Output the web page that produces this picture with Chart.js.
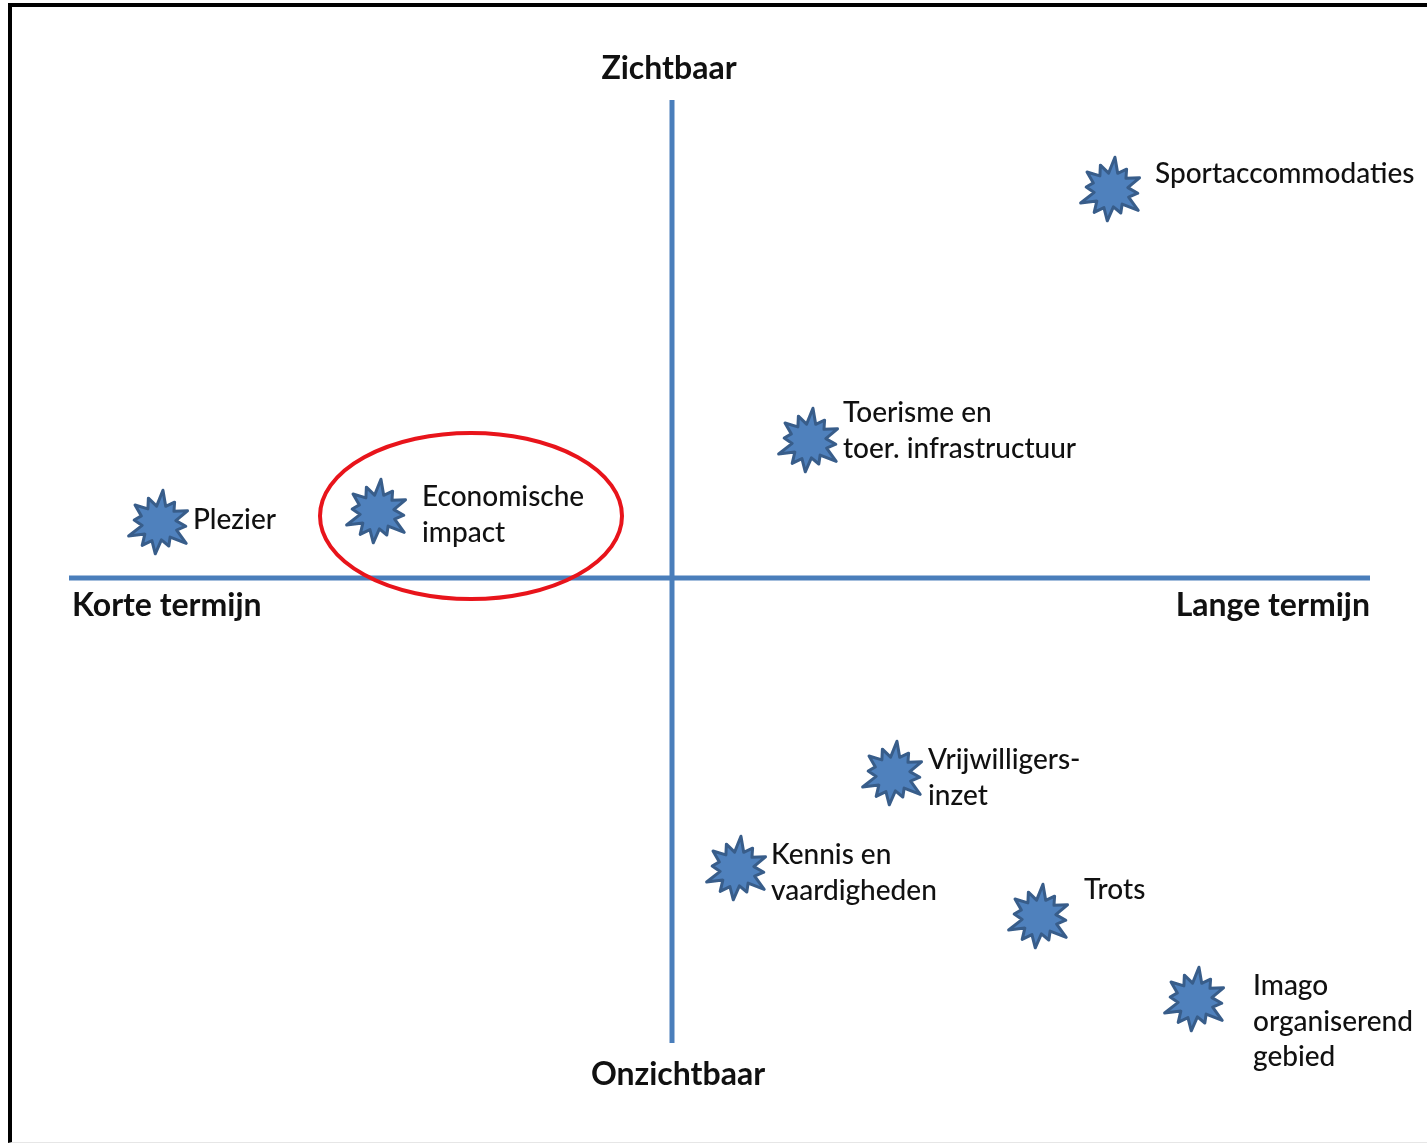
<!DOCTYPE html>
<html>
<head>
<meta charset="utf-8">
<script src="https://cdn.jsdelivr.net/npm/chart.js@4"></script>
<style>
  html, body { margin: 0; padding: 0; background: #fff; }
  #wrap { position: relative; width: 1427px; height: 1146px; }
  #frame { position: absolute; left: 8px; top: 3px; right: 0; bottom: 3px;
           border-left: 4px solid #000; border-top: 4px solid #000;
           border-bottom: 1px solid #e6e6e6; pointer-events: none; }
</style>
</head>
<body>
<div id="wrap">
  <canvas id="quadChart" width="1427" height="1146"></canvas>
  <div id="frame"></div>
</div>
<script>
// items placed on the diagram (x = korte -> lange termijn, y = onzichtbaar -> zichtbaar)
var itemNames = [
  ["Sportaccommodaties"],
  ["Toerisme en", "toer. infrastructuur"],
  ["Plezier"],
  ["Economische", "impact"],
  ["Vrijwilligers-", "inzet"],
  ["Kennis en", "vaardigheden"],
  ["Trots"],
  ["Imago", "organiserend", "gebied"]
];
var itemX = [4.39, 1.37, -5.13, -2.95, 2.21, 0.65, 3.67, 5.23];
var itemY = [3.88, 1.37, 0.55, 0.66, -1.96, -2.91, -3.39, -4.22];

// axis ends and captions
var horizontalAxis = [-6.03, 6.98];
var verticalAxis = [-4.65, 4.78];
var axisLabels = ["Zichtbaar", "Onzichtbaar", "Korte termijn", "Lange termijn"];

// highlighted item
var highlightIndex = 3;

// label offsets in px (first line), relative to the star centre
var labelOffsets = [[44, -16], [34, -28], [34, -3], [45, -15], [35, -14], [34, -14], [45, -27], [58, -14]];
var lineHeight = 35.5;

var blue = '#4a7ebb';

// explosion shaped marker
function makeStar() {
  var c = document.createElement('canvas');
  c.width = 76; c.height = 76;
  var g = c.getContext('2d');
  var outer = [33, 26, 31, 27, 34, 25, 31, 28, 33, 25, 30, 27];
  var inner = [18, 19, 17, 19, 18, 17, 19, 18, 17, 19, 18, 17];
  var n = outer.length;
  g.beginPath();
  for (var i = 0; i < n; i++) {
    var a1 = -Math.PI / 2 + (i / n) * Math.PI * 2 + 0.12;
    var a2 = a1 + Math.PI / n;
    g.lineTo(38 + outer[i] * Math.cos(a1), 38 + outer[i] * Math.sin(a1));
    g.lineTo(38 + inner[i] * Math.cos(a2), 38 + inner[i] * Math.sin(a2));
  }
  g.closePath();
  g.fillStyle = '#4f81bd';
  g.fill();
  g.lineWidth = 3;
  g.lineJoin = 'round';
  g.strokeStyle = '#385d8a';
  g.stroke();
  return c;
}
var star = makeStar();

var points = itemX.map(function (x, i) { return { x: x, y: itemY[i] }; });

var overlay = {
  id: 'overlay',
  afterDatasetsDraw: function (chart) {
    var ctx = chart.ctx;
    var xs = chart.scales.x, ys = chart.scales.y;
    ctx.save();
    ctx.fillStyle = '#111';
    ctx.textBaseline = 'middle';

    // item labels
    ctx.font = '500 28px Lato';
    ctx.textAlign = 'left';
    var meta = chart.getDatasetMeta(2);
    meta.data.forEach(function (pt, i) {
      var lines = itemNames[i];
      for (var k = 0; k < lines.length; k++) {
        ctx.fillText(lines[k], pt.x + labelOffsets[i][0], pt.y + labelOffsets[i][1] + k * lineHeight);
      }
    });

    // axis captions
    ctx.font = 'bold 32px Lato';
    ctx.textAlign = 'center';
    ctx.fillText(axisLabels[0], xs.getPixelForValue(0) - 3, ys.getPixelForValue(verticalAxis[1]) - 31);
    ctx.fillText(axisLabels[1], xs.getPixelForValue(0) + 6, ys.getPixelForValue(verticalAxis[0]) + 32);
    ctx.textAlign = 'left';
    ctx.fillText(axisLabels[2], xs.getPixelForValue(horizontalAxis[0]) + 3, ys.getPixelForValue(0) + 28);
    ctx.textAlign = 'right';
    ctx.fillText(axisLabels[3], xs.getPixelForValue(horizontalAxis[1]), ys.getPixelForValue(0) + 28);

    // red ellipse around the highlighted item
    var hx = itemX[highlightIndex] + 0.94, hy = itemY[highlightIndex] - 0.04;
    var cx = xs.getPixelForValue(hx), cy = ys.getPixelForValue(hy);
    var rx = xs.getPixelForValue(hx + 1.51) - cx;
    var ry = cy - ys.getPixelForValue(hy + 0.83);
    ctx.beginPath();
    ctx.ellipse(cx, cy, rx, ry, 0, 0, Math.PI * 2);
    ctx.lineWidth = 4;
    ctx.strokeStyle = '#e8141b';
    ctx.stroke();
    ctx.restore();
  }
};

var quadChart = new Chart(document.getElementById('quadChart'), {
  type: 'scatter',
  data: {
    datasets: [
      {
        label: 'horizontaal',
        data: [{ x: horizontalAxis[0], y: 0 }, { x: horizontalAxis[1], y: 0 }],
        showLine: true,
        borderColor: blue,
        borderWidth: 5,
        pointRadius: 0
      },
      {
        label: 'verticaal',
        data: [{ x: 0, y: verticalAxis[0] }, { x: 0, y: verticalAxis[1] }],
        showLine: true,
        borderColor: blue,
        borderWidth: 5,
        pointRadius: 0
      },
      {
        label: 'items',
        data: points,
        pointStyle: star,
        pointRadius: 33,
        pointHoverRadius: 33
      }
    ]
  },
  options: {
    responsive: false,
    animation: false,
    devicePixelRatio: 1,
    layout: { padding: 0, autoPadding: false },
    plugins: {
      legend: { display: false },
      tooltip: { enabled: false }
    },
    scales: {
      x: { type: 'linear', min: -6.72, max: 7.55, display: false },
      y: { type: 'linear', min: -5.68, max: 5.78, display: false }
    }
  },
  plugins: [overlay]
});
</script>
</body>
</html>
